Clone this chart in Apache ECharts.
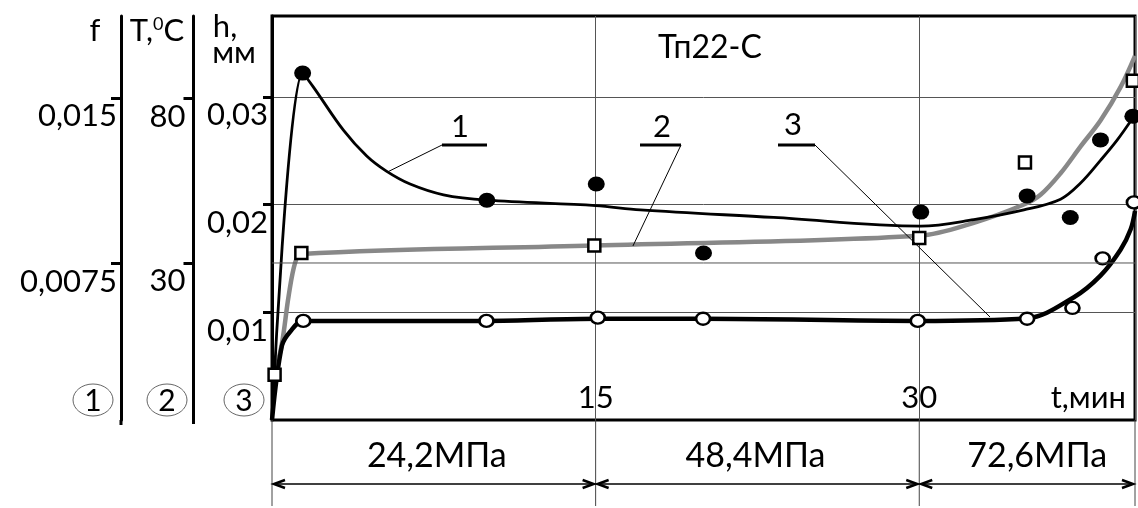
<!DOCTYPE html>
<html>
<head>
<meta charset="utf-8">
<script src="https://cdn.jsdelivr.net/npm/echarts@6/dist/echarts.min.js"></script>
<style>
html,body{margin:0;padding:0;background:#fff;}
#c{width:1138px;height:508px;}
</style>
</head>
<body>
<div id="c"></div>
<script>
// ---- data (t, min ; h, mm) ----
var xTicks = [15, 30];
var hTicks = [0.01, 0.02, 0.03];
var tTicks = [30, 80];
var fTicks = [0.0075, 0.015];
var stageBounds = [0, 15, 30, 40];
var stageLabels = ['24,2МПа', '48,4МПа', '72,6МПа'];

// measured points
var pts1 = [[1.42,0.0322],[9.96,0.0204],[15.03,0.0219],[20.0,0.0155],[30.07,0.0193],[35.0,0.0208],[37.0,0.0188],[38.4,0.0260],[39.9,0.0282]];
var pts2 = [[0.12,0.0042],[1.36,0.0155],[14.94,0.0162],[30.0,0.0169],[34.9,0.0239],[39.9,0.0315]];
var pts3 = [[1.45,0.0092],[9.94,0.0092],[15.1,0.0095],[19.98,0.0094],[29.93,0.0092],[35.0,0.0094],[37.1,0.0104],[38.5,0.0150],[39.95,0.0202]];

// fitted curves
var curve1 = [[0,0],[1.42,0.0322],[1.92,0.0309],[3.31,0.0269],[4.39,0.0245],[5.3,0.0231],[6.4,0.0219],[7.95,0.0209],[9.96,0.0204],[15,0.0199],[17.07,0.0195],[23.25,0.0188],[30.07,0.0180],[32.53,0.0186],[34.85,0.0195],[36.55,0.0205],[37.48,0.0220],[38.4,0.0241],[39.18,0.0260],[39.92,0.0281]];
var curve2 = [[0.12,0.0042],[0.46,0.0071],[0.77,0.0115],[1.08,0.01465],[1.36,0.0154],[14.94,0.0162],[30,0.0171],[32.53,0.0183],[34.85,0.0200],[35.62,0.0209],[36.55,0.0229],[37.48,0.0254],[38.4,0.0278],[39.33,0.0309],[40,0.0338]];
var curve3 = [[0,0],[0.46,0.0069],[0.84,0.0082],[1.45,0.0092],[9.94,0.0092],[15.1,0.0094],[19.98,0.0094],[29.93,0.0092],[35.0,0.00945],[37.17,0.0114],[38.4,0.0134],[39.33,0.0158],[39.8,0.0177],[40,0.0194]];

// leader anchors on curves
var leaders = [{n:'1', at:[5.33,0.0230]}, {n:'2', at:[16.73,0.01615]}, {n:'3', at:[33.28,0.00956]}];

var FONT = 'Lato';
function comma(v){ return String(v).replace('.', ','); }

var chart = echarts.init(document.getElementById('c'), null, {renderer:'canvas'});
var yLabel = {fontSize:31, color:'#000', fontFamily:FONT, verticalAlign:'top', lineHeight:37};
var opt = {
  animation:false,
  backgroundColor:'#fff',
  textStyle:{fontFamily:FONT, color:'#000'},
  grid:{left:272, right:3, top:16, bottom:88, show:true, borderColor:'#000', borderWidth:3, backgroundColor:'transparent'},
  xAxis:{type:'value', min:0, max:40, interval:15,
    axisLine:{show:false}, axisTick:{show:false},
    splitLine:{show:true, lineStyle:{color:'#555', width:1}},
    axisLabel:{customValues:xTicks, inside:true, margin:7, fontSize:31, color:'#000', fontFamily:FONT}
  },
  yAxis:[
    {type:'value', min:0, max:0.0375, interval:0.01, position:'left',
      axisLine:{show:true, lineStyle:{color:'#000', width:3}},
      axisTick:{show:true, customValues:hTicks, length:9, lineStyle:{color:'#000', width:3}},
      axisLabel:Object.assign({customValues:hTicks, formatter:comma, margin:4}, yLabel),
      splitLine:{show:true, lineStyle:{color:'#555', width:1}}
    },
    {type:'value', min:-17.58, max:104.85, position:'left', offset:78.5,
      axisLine:{show:true, lineStyle:{color:'#000', width:3}},
      axisTick:{show:true, customValues:tTicks, length:10, lineStyle:{color:'#000', width:3}},
      axisLabel:Object.assign({customValues:tTicks, margin:8}, yLabel),
      splitLine:{show:false}
    },
    {type:'value', min:0.000364, max:0.018727, position:'left', offset:151,
      axisLine:{show:true, lineStyle:{color:'#000', width:3}},
      axisTick:{show:true, customValues:fTicks, length:10, lineStyle:{color:'#000', width:3}},
      axisLabel:Object.assign({customValues:fTicks, formatter:comma, margin:4}, yLabel),
      splitLine:{show:false}
    }
  ],
  series:[
    {type:'line', data:curve2, smooth:0.35, showSymbol:false, clip:false, z:2,
      lineStyle:{color:'#888', width:4.5}},
    {type:'line', data:curve1, smooth:0.35, showSymbol:false, clip:false, z:3,
      lineStyle:{color:'#000', width:2.8}},
    {type:'line', data:curve3, smooth:0.35, showSymbol:false, clip:false, z:3,
      lineStyle:{color:'#000', width:4.5}},
    {type:'scatter', data:pts1, symbol:'circle', symbolSize:[17,15], clip:false, z:5,
      itemStyle:{color:'#000', opacity:1}},
    {type:'scatter', data:pts2, symbol:'rect', symbolSize:12, clip:false, z:5,
      itemStyle:{color:'#fff', borderColor:'#000', borderWidth:2.5, opacity:1}},
    {type:'scatter', data:pts3, symbol:'circle', symbolSize:[14,12], clip:false, z:5,
      itemStyle:{color:'#fff', borderColor:'#000', borderWidth:2.5, opacity:1}}
  ]
};
chart.setOption(opt);

function px(x, y){ return chart.convertToPixel({xAxisIndex:0, yAxisIndex:0}, [x, y]); }
var g = [];
function text(x, y, s, size, align, extra){
  var o = {type:'text', x:x, y:y, z:20, style:{text:s, font:size+'px '+FONT, fill:'#000', textAlign:align||'center', textVerticalAlign:'middle'}};
  if (extra) for (var k in extra) o.style[k] = extra[k];
  g.push(o);
}
function line(x1,y1,x2,y2,w,c){
  g.push({type:'line', z:20, shape:{x1:x1,y1:y1,x2:x2,y2:y2}, style:{stroke:c||'#000', lineWidth:w||1}});
}

// extra horizontal grid line at T = 30
var yT30 = chart.convertToPixel({yAxisIndex:1}, 30);
var left = px(0,0)[0], right = px(40,0)[0], bottom = px(0,0)[1];
line(left, yT30, right, yT30, 1, '#555');

// axis lines extend slightly below the plot
line(121, bottom, 121, 425, 3);
line(193.5, bottom, 193.5, 424, 3);

// axis titles
text(95, 31, 'f', 31);
g.push({type:'text', x:157, y:31, z:20, style:{text:'T,{s|0}C', font:'31px '+FONT, fill:'#000', textAlign:'center', textVerticalAlign:'middle',
  rich:{s:{fontSize:18, fontFamily:FONT, verticalAlign:'top', padding:[0,0,14,0]}}}});
text(225, 27, 'h,', 31);
text(234, 53, 'мм', 31);

// title
text(710, 48, 'Тп22-С', 32);
// x unit
text(1126, 398, 't,мин', 31, 'right');

// circled numbers
[[93,'1'],[167,'2'],[244,'3']].forEach(function(c){
  g.push({type:'ellipse', z:20, shape:{cx:c[0], cy:400, rx:20, ry:16}, style:{fill:'none', stroke:'#666', lineWidth:1}});
  text(c[0], 401, c[1], 30);
});

// leader labels
var labPos = [[460,127,442,487],[662,127,640,681],[793,125,778,815]];
leaders.forEach(function(L, i){
  var p = labPos[i];
  text(p[0], p[1], L.n, 31);
  line(p[2], 145, p[3], 145, 3);
  var a = px(L.at[0], L.at[1]);
  var sx = (i === 0) ? p[2] : p[3];
  line(sx, 145, a[0], a[1], 1);
});

// stage dimension lines
var yArrow = 484;
stageBounds.forEach(function(b){
  var x = px(b,0)[0];
  line(x, bottom, x, 506, 1, '#444');
});
function arrowHead(x, y, dir){
  g.push({type:'polyline', z:20, shape:{points:[[x+dir*11,y-4],[x,y],[x+dir*11,y+4]]}, style:{stroke:'#000', lineWidth:2.5, fill:'none'}});
}
for (var i=0;i<stageLabels.length;i++){
  var x1 = px(stageBounds[i],0)[0]+2, x2 = px(stageBounds[i+1],0)[0]-2;
  line(x1, yArrow, x2, yArrow, 1.5);
  arrowHead(x1, yArrow, 1);
  arrowHead(x2, yArrow, -1);
  text((x1+x2)/2 + (i===0?3:(i===1?-2:10)), 456, stageLabels[i], 34);
}

chart.setOption({graphic:g});
</script>
</body>
</html>
